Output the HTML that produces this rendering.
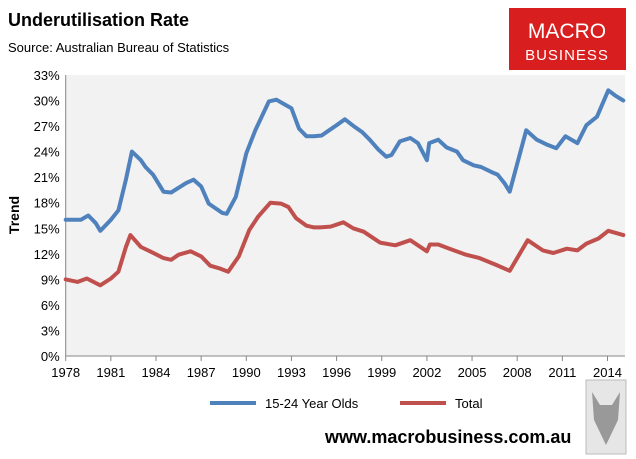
<!DOCTYPE html>
<html><head><meta charset="utf-8">
<style>
body{margin:0;background:#fff;font-family:"Liberation Sans",Arial,sans-serif;}
#wrap{position:relative;width:636px;height:459px;overflow:hidden;}
</style></head>
<body>
<div id="wrap">
<svg id="chart" width="636" height="459">
  <text x="8" y="26" font-size="18" font-weight="bold" fill="#000">Underutilisation Rate</text>
  <text x="8" y="52" font-size="13" fill="#000">Source: Australian Bureau of Statistics</text>
  <g>
    <rect x="509" y="8" width="117" height="62" fill="#d81e1e"/>
    <text x="567" y="38" font-size="21" fill="#fff" text-anchor="middle">MACRO</text>
    <text x="567" y="60" font-size="15" fill="#fff" text-anchor="middle" letter-spacing="1">BUSINESS</text>
  </g>
  <rect x="65.7" y="75" width="559.3" height="281" fill="#f2f2f2"/>
  <g id="axes"></g>
  <g id="series"></g>
  <text transform="translate(19,215) rotate(-90)" font-size="14" font-weight="bold" text-anchor="middle">Trend</text>
  <g>
    <g>
      <line x1="210" y1="403" x2="256" y2="403" stroke="#4f81bd" stroke-width="4"/>
      <text x="265" y="408" font-size="13">15-24 Year Olds</text>
    </g>
    <g>
      <line x1="400" y1="403" x2="446" y2="403" stroke="#c0504d" stroke-width="4"/>
      <text x="455" y="408" font-size="13">Total</text>
    </g>
  </g>
  <text x="325" y="443" font-size="18" font-weight="bold" fill="#000">www.macrobusiness.com.au</text>
  <g>
    <rect x="586" y="380" width="40" height="74" fill="#e6e6e6" stroke="#bbb"/>
    <path d="M592 392 L600 405 L612 405 L620 392 L618 420 L606 445 L594 420 Z" fill="#999"/>
  </g>
</svg>
</div>
<script>
const xTicks=[1978,1981,1984,1987,1990,1993,1996,1999,2002,2005,2008,2011,2014];
const yTicks=[0,3,6,9,12,15,18,21,24,27,30,33];
const youthT=[1978,1978.5,1979,1979.5,1980,1980.3,1981,1981.5,1982,1982.4,1983,1983.3,1983.8,1984.5,1985,1986,1986.5,1987,1987.5,1988.4,1988.7,1989.3,1990,1990.6,1991.5,1992,1992.5,1993,1993.5,1994,1994.5,1995,1995.5,1996,1996.55,1997.2,1997.7,1998.2,1998.8,1999.3,1999.65,2000.2,2000.9,2001.4,2002.0,2002.15,2002.75,2003.3,2004.0,2004.4,2005.1,2005.6,2006.3,2006.7,2007.15,2007.5,2008.6,2009.3,2010.0,2010.6,2011.2,2012.0,2012.6,2013.3,2014.05,2014.5,2015.05];
const youthV=[16.0,16.0,16.0,16.5,15.6,14.7,16.0,17.1,20.7,24.0,23.0,22.2,21.3,19.3,19.2,20.3,20.7,19.9,17.9,16.8,16.7,18.7,23.8,26.5,29.9,30.1,29.6,29.1,26.7,25.8,25.8,25.9,26.5,27.1,27.8,26.9,26.3,25.4,24.2,23.4,23.6,25.2,25.6,25.0,23.0,25.0,25.4,24.5,24.0,23.0,22.4,22.2,21.6,21.3,20.3,19.3,26.5,25.4,24.8,24.4,25.8,25.0,27.1,28.1,31.2,30.6,30.0];
const totalT=[1978,1978.8,1979.4,1980.3,1981,1981.5,1982,1982.3,1983,1983.6,1984.5,1985,1985.5,1986.3,1987,1987.6,1988.2,1988.8,1989.5,1990.2,1990.8,1991.6,1992.3,1992.8,1993.3,1994,1994.5,1994.9,1995.6,1996.45,1997.1,1997.8,1998.9,1999.9,2000.9,2002.0,2002.2,2002.75,2003.5,2004.6,2005.5,2006.6,2007.5,2008.7,2009.7,2010.4,2011.3,2012.0,2012.6,2013.4,2014.05,2015.05];
const totalV=[9.0,8.7,9.1,8.3,9.1,9.9,12.8,14.2,12.8,12.3,11.5,11.3,11.9,12.3,11.7,10.6,10.3,9.9,11.7,14.8,16.4,18.0,17.9,17.5,16.2,15.3,15.1,15.1,15.2,15.7,15.0,14.6,13.3,13.0,13.6,12.3,13.1,13.1,12.6,11.9,11.5,10.7,10.0,13.6,12.4,12.1,12.6,12.4,13.2,13.8,14.7,14.2];

const NS="http://www.w3.org/2000/svg";
const X0=65.7,PX=15.05,Y0=356,PY=281/33;
function xs(t){return X0+(t-1978)*PX;}
function ys(v){return Y0-v*PY;}
const axes=document.getElementById('axes');
function mk(tag,attrs,parent){const e=document.createElementNS(NS,tag);for(const k in attrs)e.setAttribute(k,attrs[k]);parent.appendChild(e);return e;}
const yAxis=mk('line',{x1:X0,y1:75,x2:X0,y2:Y0,stroke:'#868686','stroke-width':1},axes);


const xAxis=mk('line',{x1:X0,y1:Y0,x2:625,y2:Y0,stroke:'#868686','stroke-width':1},axes);


yTicks.forEach(v=>{
  const t=mk('text',{x:X0-6,y:ys(v)+5,'font-size':13,'text-anchor':'end',fill:'#000'},axes);
  t.textContent=v+'%';
  
  
});
xTicks.forEach(yr=>{
  const x=xs(yr);
  const tk=mk('line',{x1:x,y1:Y0,x2:x,y2:Y0+5,stroke:'#868686'},axes);
  
  
  const t=mk('text',{x:x,y:Y0+21,'font-size':13,'text-anchor':'middle',fill:'#000'},axes);
  t.textContent=yr;
  
  
});
const series=document.getElementById('series');
function draw(T,V,color,name){
  const pts=T.map((t,i)=>xs(t).toFixed(1)+','+ys(V[i]).toFixed(1)).join(' ');
  const p=mk('polyline',{points:pts,fill:'none',stroke:color,'stroke-width':4,'stroke-linejoin':'round','stroke-linecap':'round'},series);
  
  
}
draw(youthT,youthV,'#4f81bd','line-15-24-year-olds');
draw(totalT,totalV,'#c0504d','line-total');
</script>
</body></html>
